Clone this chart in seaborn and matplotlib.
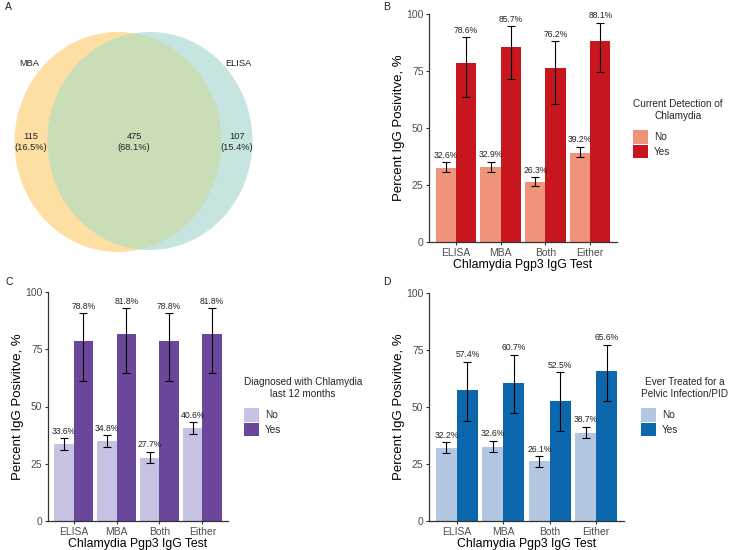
import numpy as np
import pandas as pd
import seaborn as sns
import matplotlib
matplotlib.use("Agg")
from matplotlib import pyplot as plt
from matplotlib.patches import Ellipse, Patch

# ---- data ----
venn_sets = ["MBA", "ELISA"]
venn_counts = [115, 475, 107]  # MBA only, both, ELISA only

tests = ["ELISA", "MBA", "Both", "Either"]
groups = ["No", "Yes"]

b_no = [32.6, 32.9, 26.3, 39.2]
b_no_lo = [30.5, 30.8, 24.4, 37.1]
b_no_hi = [35.0, 35.3, 28.5, 41.8]
b_yes = [78.6, 85.7, 76.2, 88.1]
b_yes_lo = [63.4, 71.5, 60.5, 74.5]
b_yes_hi = [89.8, 94.7, 88.0, 96.2]

c_no = [33.6, 34.8, 27.7, 40.6]
c_no_lo = [31.2, 32.4, 25.4, 38.0]
c_no_hi = [36.2, 37.4, 30.2, 43.2]
c_yes = [78.8, 81.8, 78.8, 81.8]
c_yes_lo = [61.0, 64.6, 61.0, 64.6]
c_yes_hi = [90.8, 93.0, 90.8, 93.0]

d_no = [32.2, 32.6, 26.1, 38.7]
d_no_lo = [29.8, 30.2, 23.9, 36.2]
d_no_hi = [34.7, 35.2, 28.5, 41.3]
d_yes = [57.4, 60.7, 52.5, 65.6]
d_yes_lo = [44.0, 47.5, 39.3, 52.5]
d_yes_hi = [69.9, 73.0, 65.3, 77.3]

sns.set_style("white")
plt.rcParams['font.family'] = ['Liberation Sans', 'DejaVu Sans']

W, H = 729, 550
fig = plt.figure(figsize=(W / 100, H / 100), dpi=100)


def px_axes(left, top, right, bottom):
    return fig.add_axes([left / W, 1 - bottom / H, (right - left) / W, (bottom - top) / H])


# ---- panel A: venn ----
ax = px_axes(0, 0, 365, 275)
ax.set_xlim(0, 365)
ax.set_ylim(275, 0)
ax.axis('off')
mba = Ellipse((118, 142), 207, 220, facecolor='#FDDFA3', edgecolor='none')
elisa = Ellipse((150, 141), 205, 218, facecolor='#C6E5E1', edgecolor='none')
ax.add_patch(mba)
ax.add_patch(elisa)
both = Ellipse((118, 142), 207, 220, facecolor='#C9DDB6', edgecolor='none')
ax.add_patch(both)
both.set_clip_path(elisa)
total = sum(venn_counts)
for xpos, n in zip([31, 134, 237], venn_counts):
    ax.text(xpos, 142, f"{n}\n({n / total * 100:.1f}%)", ha='center', va='center',
            fontsize=6.7, color='#222222', linespacing=1.3)
ax.text(29, 63, venn_sets[0], ha='center', va='center', fontsize=6.7, color='#222222')
ax.text(238, 63, venn_sets[1], ha='center', va='center', fontsize=6.7, color='#222222')


def bar_panel(box, no, no_lo, no_hi, yes, yes_lo, yes_hi, colors, title, leg_xy):
    ax = px_axes(*box)
    df = pd.DataFrame({
        'test': tests * 2,
        'group': [groups[0]] * 4 + [groups[1]] * 4,
        'pct': no + yes,
    })
    sns.barplot(data=df, x='test', y='pct', hue='group', order=tests, hue_order=groups,
                palette=colors, width=0.9, errorbar=None, ax=ax, legend=False,
                saturation=1, edgecolor='none')
    los = [no_lo, yes_lo]
    his = [no_hi, yes_hi]
    vals = [no, yes]
    bar_sets = list(ax.containers)
    for k, cont in enumerate(bar_sets):
        for i, bar in enumerate(cont.patches):
            xc = bar.get_x() + bar.get_width() / 2
            v = vals[k][i]
            ax.errorbar(xc, v, yerr=[[v - los[k][i]], [his[k][i] - v]], fmt='none',
                        ecolor='black', elinewidth=0.8, capsize=3.2, capthick=0.8)
            ax.text(xc, his[k][i] + 3, f"{v:.1f}%", ha='center', va='center',
                    fontsize=6.2, color='#222222', clip_on=False)
    ax.set_xlim(-0.6, 3.6)
    ax.set_ylim(0, 100)
    ax.set_yticks([0, 25, 50, 75, 100])
    sns.despine(ax=ax)
    for s in ['left', 'bottom']:
        ax.spines[s].set_color('#333333')
        ax.spines[s].set_linewidth(0.9)
    ax.tick_params(axis='both', length=2.5, width=0.8, color='#333333',
                   labelsize=7.5, labelcolor='#4D4D4D', pad=1.5, direction='out')
    ax.tick_params(left=True, bottom=True)
    ax.set_xlabel('Chlamydia Pgp3 IgG Test', fontsize=8.8, labelpad=1, color='black')
    ax.set_ylabel('Percent IgG Posivitve, %', fontsize=9.5, labelpad=0.5, color='black')
    handles = [Patch(facecolor=c, edgecolor='none') for c in colors]
    leg = fig.legend(handles, groups, title=title, loc='upper left',
                     bbox_to_anchor=(leg_xy[0] / W, 1 - leg_xy[1] / H), frameon=False,
                     fontsize=7.2, title_fontsize=7.2, handlelength=1.5, handleheight=1.75,
                     labelspacing=0.05, handletextpad=0.6, borderaxespad=0, borderpad=0,
                     alignment='left')
    leg.get_title().set_multialignment('center')
    leg._legend_box.sep = 7
    return ax


bar_panel((429, 14, 617, 242), b_no, b_no_lo, b_no_hi, b_yes, b_yes_lo, b_yes_hi,
          ['#F0937B', '#C8161E'], 'Current Detection of\nChlamydia', (633, 99))
bar_panel((48, 292, 228, 521), c_no, c_no_lo, c_no_hi, c_yes, c_yes_lo, c_yes_hi,
          ['#C6C2E1', '#6A479A'], 'Diagnosed with Chlamydia\nlast 12 months', (244, 377))
bar_panel((429, 293, 624, 521), d_no, d_no_lo, d_no_hi, d_yes, d_yes_lo, d_yes_hi,
          ['#B3C7E3', '#0C67AC'], 'Ever Treated for a\nPelvic Infection/PID', (641, 377))

for lab, (x, y) in zip("ABCD", [(5, 7), (383, 7), (5, 282), (383, 282)]):
    fig.text(x / W, 1 - y / H, lab, fontsize=7.5, ha='left', va='center', color='#222222')

fig.savefig('out.png', dpi=100)
